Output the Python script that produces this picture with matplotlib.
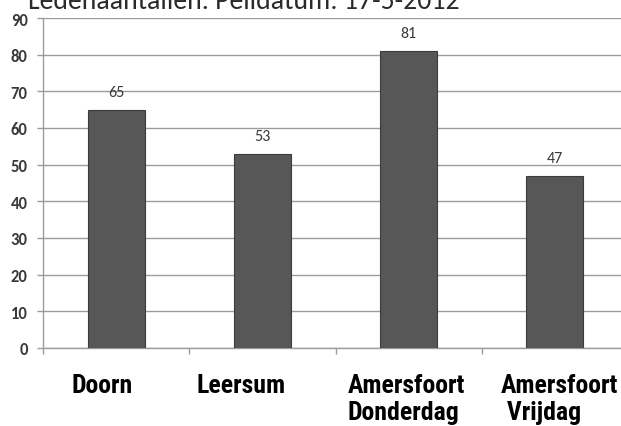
import matplotlib
matplotlib.use("Agg")
import matplotlib.pyplot as plt
from matplotlib.transforms import ScaledTranslation

# --- data ---
categories = ["Doorn", "Leersum", "Amersfoort\nDonderdag", "Amersfoort\n Vrijdag"]
members = [65, 53, 81, 47]
y_ticks = [0, 10, 20, 30, 40, 50, 60, 70, 80, 90]
title = "Ledenaantallen. Peildatum: 17-5-2012"

# label nudges in pixels (labels in the original are not perfectly centred)
label_shift_px = [-14, -21, -2, 5]

GRID = "#9c9c9c"
TXT = "#3a3a3a"

fig = plt.figure(figsize=(6.21, 4.27), dpi=100)
ax = fig.add_axes([43 / 621, 78 / 427, 585 / 621, 330 / 427])

x = list(range(len(categories)))
ax.bar(x, members, width=0.39, color="#575757", edgecolor="#3c3c3c",
       linewidth=0.8, zorder=3)

for xi, v in zip(x, members):
    ax.annotate(str(v), (xi, v), xytext=(0, 13), textcoords="offset points",
                ha="center", va="center", fontsize=11.5, color=TXT,
                family="Carlito")

ax.set_xlim(-0.5, 3.5)
ax.set_ylim(0, 90)
ax.set_yticks(y_ticks)
ax.set_yticklabels([str(t) for t in y_ticks], fontsize=12, color=TXT,
                   family="Carlito", fontweight="bold")
ax.yaxis.grid(True, color=GRID, linewidth=1.0, zorder=0)

ax.set_xticks(x)
ax.set_xticklabels(categories, fontsize=18.5, fontweight="bold",
                   family="Roboto Condensed", color="black",
                   multialignment="left", linespacing=1.15)
ax.set_xticks([i - 0.5 for i in range(len(categories) + 1)], minor=True)
ax.tick_params(axis="x", which="major", length=0, pad=18)
ax.tick_params(axis="x", which="minor", length=4, color=GRID, width=1)
ax.tick_params(axis="y", length=4, color=GRID, width=1, pad=7)

for lbl, dx in zip(ax.get_xticklabels(), label_shift_px):
    lbl.set_transform(lbl.get_transform() + ScaledTranslation(dx / 100, 0, fig.dpi_scale_trans))

for side in ["top", "right"]:
    ax.spines[side].set_visible(False)
for side in ["left", "bottom"]:
    ax.spines[side].set_color(GRID)
    ax.spines[side].set_linewidth(1.0)

# title sits partly above the top edge, as in the scanned original
fig.text(28 / 621, 1 - 9 / 427, title, fontsize=20, color="#2a2a2a",
         family="Carlito", ha="left", va="baseline")

fig.savefig("out.png", dpi=100)
